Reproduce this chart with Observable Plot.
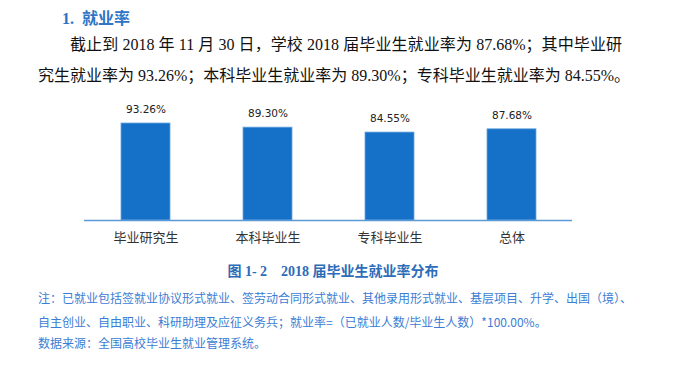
<!DOCTYPE html>
<html>
<head>
<meta charset="utf-8">
<script src="https://cdn.jsdelivr.net/npm/d3@7"></script>
<script src="https://cdn.jsdelivr.net/npm/@observablehq/plot@0.6"></script>
<style>
  html, body { margin: 0; padding: 0; background: #fff; }
  #page { position: relative; width: 683px; height: 371px; overflow: hidden; }
  .abs { position: absolute; white-space: nowrap; }
  #heading { left: 62px; top: 6px; font: bold 16px "Liberation Serif", "Noto Sans CJK SC", serif; color: #2e75c6; line-height: 22px; }
  #heading .cjk { font-family: "Noto Sans CJK SC", sans-serif; font-weight: bold; margin-left: 8px; }
  .para { font: 16px "Liberation Serif", "Noto Sans CJK SC", serif; color: #111; line-height: 22px; }
  #l1 { left: 70px; top: 34px; width: 552px; text-align: justify; text-align-last: justify; }
  #l2 { left: 38px; top: 65px; }
  #chart { left: 0; top: 92px; }
  #caption { left: 0; width: 666px; top: 262px; text-align: center; font: bold 14px "Liberation Serif", "Noto Sans CJK SC", serif; color: #2d6cb8; line-height: 20px; }
  .note { left: 38px; font: 12px "Noto Sans CJK SC", sans-serif; color: #3b7dd4; line-height: 18px; }
  #n1 { top: 289px; }
  #n2 { top: 313px; }
  #n3 { top: 334px; }
</style>
</head>
<body>
<div id="page">
  <div id="heading" class="abs">1.<span class="cjk">就业率</span></div>
  <div id="l1" class="abs para">截止到 2018 年 11 月 30 日，学校 2018 届毕业生就业率为 87.68%；其中毕业研</div>
  <div id="l2" class="abs para">究生就业率为 93.26%；本科毕业生就业率为 89.30%；专科毕业生就业率为 84.55%。</div>
  <div id="chart" class="abs"></div>
  <div id="caption" class="abs">图 1- 2　2018 届毕业生就业率分布</div>
  <div id="n1" class="abs note">注：已就业包括签就业协议形式就业、签劳动合同形式就业、其他录用形式就业、基层项目、升学、出国（境）、</div>
  <div id="n2" class="abs note">自主创业、自由职业、科研助理及应征义务兵；就业率=（已就业人数/毕业生人数）*100.00%。</div>
  <div id="n3" class="abs note">数据来源：全国高校毕业生就业管理系统。</div>
</div>
<script>
const categories = ["毕业研究生", "本科毕业生", "专科毕业生", "总体"];
const values = [93.26, 89.30, 84.55, 87.68];
const valueLabels = ["93.26%", "89.30%", "84.55%", "87.68%"];

const data = categories.map((c, i) => ({ category: c, value: values[i], label: valueLabels[i] }));

const chart = Plot.plot({
  width: 683,
  height: 160,
  marginLeft: 84,
  marginRight: 111,
  marginTop: 24,
  marginBottom: 32,
  style: { background: "transparent", overflow: "visible" },
  x: {
    domain: categories,
    paddingInner: 0.6,
    paddingOuter: 0.3,
    label: null,
    tickSize: 0,
    tickPadding: 12
  },
  y: { domain: [0, 100], axis: null },
  marks: [
    Plot.barY(data, { x: "category", y: "value", fill: "#1570c8", stroke: "#6aa6e0", strokeWidth: 0.8 }),
    Plot.ruleY([0], { stroke: "#5b9bd5", strokeWidth: 1.5 }),
    Plot.text(data, { x: "category", y: "value", text: "label", dy: -14, fontSize: 10.5, fill: "#222", fontFamily: "DejaVu Sans" }),
    Plot.axisX({ tickSize: 0, tickPadding: 12, fontSize: 13, fontFamily: "Noto Sans CJK SC", color: "#333", label: null })
  ]
});
document.getElementById("chart").appendChild(chart);
</script>
</body>
</html>
